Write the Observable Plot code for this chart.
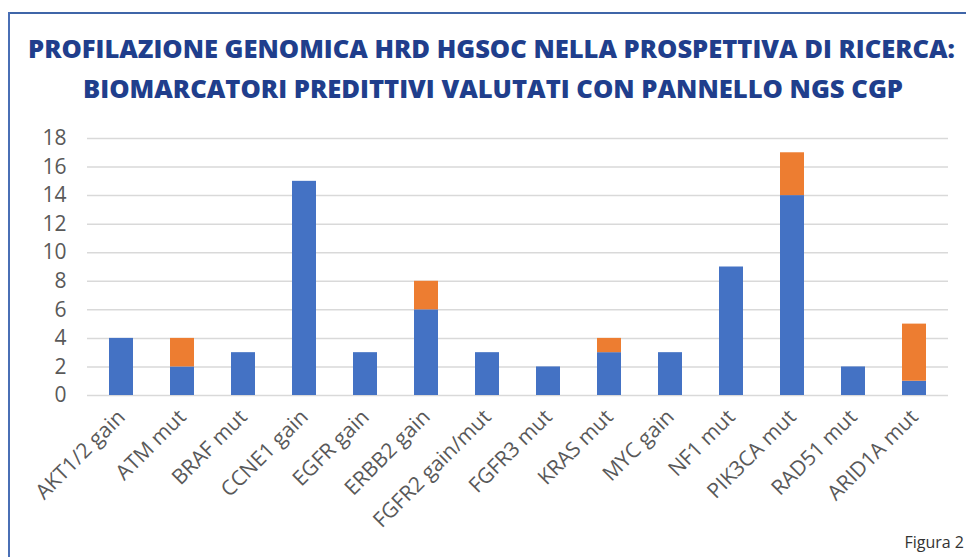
<!DOCTYPE html>
<html>
<head>
<meta charset="utf-8">
<script src="https://cdn.jsdelivr.net/npm/d3@7"></script>
<script src="https://cdn.jsdelivr.net/npm/@observablehq/plot@0.6"></script>
<style>
  html, body { margin: 0; padding: 0; background: #fff; }
  #wrap { position: relative; width: 966px; height: 557px; overflow: hidden; background: #fff; }
  #frameTop { position: absolute; left: 8px; top: 12px; width: 958px; height: 2px; background: #3F65A8; }
  #frameLeft { position: absolute; left: 8px; top: 12px; width: 2px; height: 545px; background: #4A6FB5; }
  #title { position: absolute; left: 0; top: 28px; width: 966px; }
  #chart { position: absolute; left: 0; top: 0; }
  #caption { position: absolute; right: 2px; top: 531px; font: 16px "Open Sans", sans-serif; color: #333; }
</style>
</head>
<body>
<div id="wrap">
  <div id="chart"></div>
  <div id="frameTop"></div>
  <div id="frameLeft"></div>
  <svg id="title" width="966" height="80">
    <text x="491.5" y="30" text-anchor="middle" textLength="927" lengthAdjust="spacingAndGlyphs"
      font-family="'Open Sans', sans-serif" font-weight="800" font-size="25" fill="#203E8C">PROFILAZIONE GENOMICA HRD HGSOC NELLA PROSPETTIVA DI RICERCA:</text>
    <text x="493" y="70" text-anchor="middle" textLength="820" lengthAdjust="spacingAndGlyphs"
      font-family="'Open Sans', sans-serif" font-weight="800" font-size="25" fill="#203E8C">BIOMARCATORI PREDITTIVI VALUTATI CON PANNELLO NGS CGP</text>
  </svg>
  <div id="caption">Figura 2</div>
</div>
<script>
const categories = ["AKT1/2 gain", "ATM mut", "BRAF mut", "CCNE1 gain", "EGFR gain", "ERBB2 gain", "FGFR2 gain/mut", "FGFR3 mut", "KRAS mut", "MYC gain", "NF1 mut", "PIK3CA mut", "RAD51 mut", "ARID1A mut"];
const serie1 = [4, 2, 3, 15, 3, 6, 3, 2, 3, 3, 9, 14, 2, 1];
const serie2 = [0, 2, 0, 0, 0, 2, 0, 0, 1, 0, 0, 3, 0, 4];
const seriesNames = ["Serie 1", "Serie 2"];
const yTicks = [0, 2, 4, 6, 8, 10, 12, 14, 16, 18];

const data = [];
categories.forEach((c, i) => {
  data.push({cat: c, serie: seriesNames[0], value: serie1[i]});
  data.push({cat: c, serie: seriesNames[1], value: serie2[i]});
});

const plot = Plot.plot({
  width: 966,
  height: 557,
  marginLeft: 87,
  marginRight: 18,
  marginTop: 138,
  marginBottom: 162,
  style: {fontFamily: "'Open Sans', sans-serif", color: "#595959", background: "transparent"},
  x: {domain: categories, paddingInner: 0.61, paddingOuter: 0.305, label: null},
  y: {domain: [0, 18], label: null},
  color: {domain: seriesNames, range: ["#4472C4", "#ED7D31"]},
  marks: [
    Plot.ruleY(yTicks, {stroke: "#D9D9D9", strokeWidth: 1.5, strokeOpacity: 1}),
    Plot.barY(data, Plot.stackY({x: "cat", y: "value", fill: "serie", order: seriesNames})),
    Plot.axisY(yTicks, {tickSize: 0, tickPadding: 21, fontSize: 21, fill: "#595959"}),
    Plot.axisX({tickSize: 0, tickRotate: -45, tickPadding: 18, dx: 0, fontSize: 21, fill: "#595959"})
  ]
});
document.getElementById("chart").appendChild(plot);
</script>
</body>
</html>
